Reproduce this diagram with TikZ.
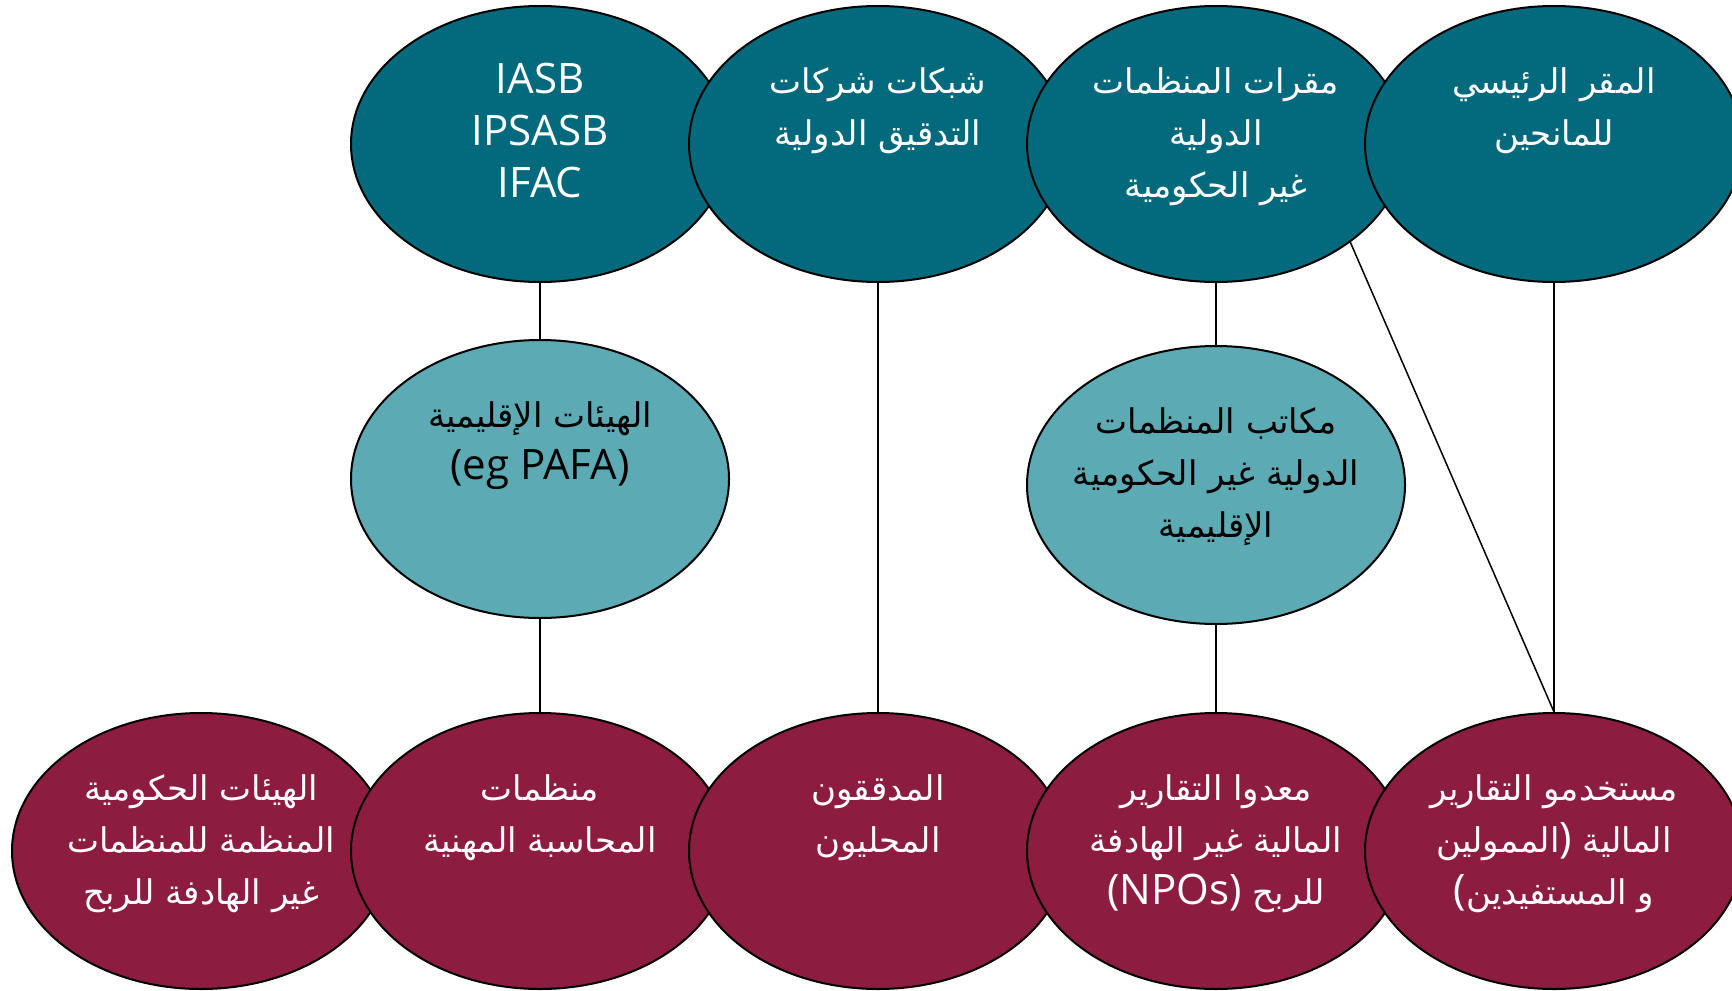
\documentclass[tikz,border=0pt]{standalone}
\usepackage{fontspec}
\setmainfont{Open Sans}
\newfontfamily\arabicfont[Script=Arabic]{DejaVu Sans}
\TeXXeTstate=1
\usetikzlibrary{shapes.geometric}
\definecolor{hqteal}{HTML}{026A7C}
\definecolor{regteal}{HTML}{5CAAB4}
\definecolor{localred}{HTML}{8D1C41}
\newcommand{\arb}{\arabicfont\fontsize{17}{26}\selectfont}

\begin{document}
\begin{tikzpicture}[x=0.5pt,y=-0.5pt,
  ell/.style={ellipse,draw=black,line width=1pt,inner sep=0pt,
    minimum width=189pt,minimum height=138pt},
  global/.style={ell,fill=hqteal},
  region/.style={ell,fill=regteal,minimum height=139pt},
  local/.style={ell,fill=localred},
  txt/.style={anchor=north,align=center,inner sep=0pt,yshift=-26pt,
    font=\fontsize{21}{26}\selectfont},
  wtxt/.style={txt,text=white},
  btxt/.style={txt,text=black},
  conn/.style={draw=black,line width=0.75pt}]
	\useasboundingbox (0,0) rectangle (1732,990);
	%
	\node[global,label={[wtxt]north:\strut IASB\\IPSASB\\IFAC}] (standards) at (540,144) {};
	\node[global,label={[wtxt]north:\strut{\arb\beginR شبكات شركات\endR}\\{\arb\beginR التدقيق الدولية\endR}}] (auditnets) at (878,144) {};
	\node[global,label={[wtxt]north:\strut{\arb\beginR مقرات المنظمات\endR}\\{\arb\beginR الدولية\endR}\\{\arb\beginR غير الحكومية\endR}}] (ngohq) at (1216,144) {};
	\node[global,label={[wtxt]north:\strut{\arb\beginR المقر الرئيسي\endR}\\{\arb\beginR للمانحين\endR}}] (donorhq) at (1554,144) {};
	%
	\node[region,label={[btxt]north:\strut{\arb\beginR الهيئات الإقليمية\endR}\\(eg PAFA)}] (regbodies) at (540,479) {};
	\node[region,label={[btxt]north:\strut{\arb\beginR مكاتب المنظمات\endR}\\{\arb\beginR الدولية غير الحكومية\endR}\\{\arb\beginR الإقليمية\endR}}] (ngoregion) at (1216,485) {};
	%
	\node[local,label={[wtxt]north:\strut{\arb\beginR الهيئات الحكومية\endR}\\{\arb\beginR المنظمة  للمنظمات\endR}\\{\arb\beginR غير الهادفة للربح\endR}}] (regulators) at (201,851) {};
	\node[local,label={[wtxt]north:\strut{\arb\beginR منظمات\endR}\\{\arb\beginR المحاسبة المهنية\endR}}] (paos) at (540,851) {};
	\node[local,label={[wtxt]north:\strut{\arb\beginR المدققون\endR}\\{\arb\beginR المحليون\endR}}] (auditors) at (878,851) {};
	\node[local,label={[wtxt]north:\strut{\arb\beginR معدوا التقارير\endR}\\{\arb\beginR المالية غير الهادفة\endR}\\(NPOs) {\arb\beginR للربح\endR}}] (preparers) at (1216,851) {};
	\node[local,label={[wtxt]north:\strut{\arb\beginR مستخدمو التقارير\endR}\\{\arb\beginR الممولين\endR}) {\arb\beginR المالية\endR}\\({\arb\beginR المستفيدين\endR} {\arb\beginR و\endR}}] (users) at (1554,851) {};
	%
	\path[conn] (standards) edge (regbodies)
		(regbodies) edge (paos)
		(auditnets) edge (auditors)
		(ngohq) edge (ngoregion)
		(ngoregion) edge (preparers)
		(ngohq.south east) edge (users.north)
		(donorhq) edge (users);
\end{tikzpicture}
\end{document}
